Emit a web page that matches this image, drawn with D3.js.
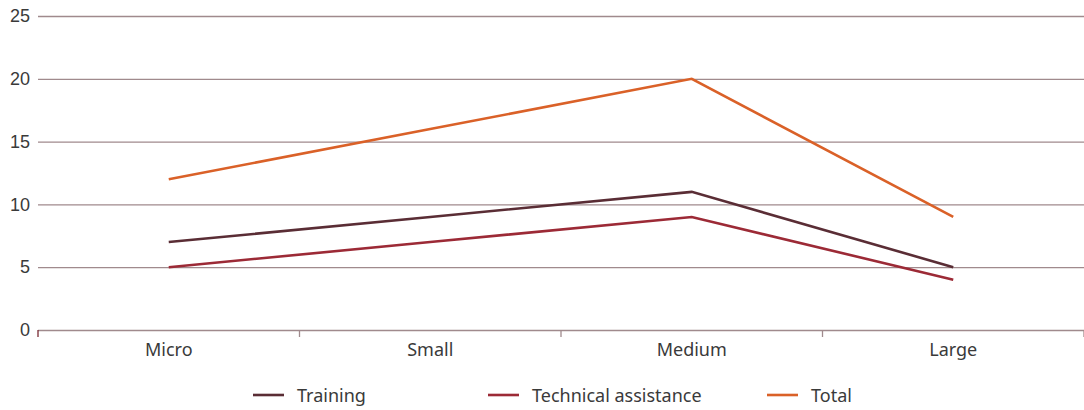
<!DOCTYPE html>
<html>
<head>
<meta charset="utf-8">
<script src="https://cdn.jsdelivr.net/npm/d3@7"></script>
<style>
  html, body { margin: 0; padding: 0; background: #fff; }
  svg { display: block; font-family: "Noto Sans", "Open Sans", sans-serif; }
</style>
</head>
<body>
<svg id="chart" width="1084" height="410"></svg>
<script>
// Firm size categories and series values
const categories = ["Micro", "Small", "Medium", "Large"];
const training = [7, 9, 11, 5];
const technicalAssistance = [5, 7, 9, 4];
const total = [12, 16, 20, 9];
const yTicks = [0, 5, 10, 15, 20, 25];

const series = [
  { name: "Training", values: training, color: "#5a2d35" },
  { name: "Technical assistance", values: technicalAssistance, color: "#9c2a36" },
  { name: "Total", values: total, color: "#da6128" }
];

const svg = d3.select("#chart");
const margin = { left: 38, right: 0, top: 16, bottom: 80 };
const W = 1084, H = 410;

const x = d3.scaleBand().domain(categories).range([margin.left, W - margin.right]);
const y = d3.scaleLinear().domain([0, 25]).range([330, 16]);

const gridColor = "#a08a8d";
const textColor = "#3a3a3a";

// horizontal gridlines with value labels
const yAxis = d3.axisLeft(y).tickValues(yTicks).tickSize(-(W - margin.left - margin.right)).tickPadding(8);
const gy = svg.append("g").attr("transform", `translate(${margin.left},0)`).call(yAxis);
gy.select(".domain").remove();
gy.selectAll(".tick line").attr("stroke", gridColor).attr("stroke-width", 1.3);
gy.selectAll(".tick text").attr("fill", textColor).attr("font-size", 18).attr("x", -8);

// category axis: boundary ticks below the zero line
const boundaries = categories.map(c => x(c)).concat([x.range()[1]]);
svg.append("g").selectAll("line").data(boundaries).join("line")
  .attr("x1", d => d).attr("x2", d => d)
  .attr("y1", y(0)).attr("y2", y(0) + 7)
  .attr("stroke", (d, i) => i === 0 ? "#7a2a33" : gridColor)
  .attr("stroke-width", 1.3);

svg.append("g").selectAll("text").data(categories).join("text")
  .attr("x", d => x(d) + x.bandwidth() / 2)
  .attr("y", 356)
  .attr("text-anchor", "middle")
  .attr("fill", textColor)
  .attr("font-size", 18)
  .text(d => d);

// series lines
const line = d3.line()
  .x((d, i) => x(categories[i]) + x.bandwidth() / 2)
  .y(d => y(d));

svg.append("g").selectAll("path").data(series).join("path")
  .attr("d", d => line(d.values))
  .attr("fill", "none")
  .attr("stroke", d => d.color)
  .attr("stroke-width", 2.6);

// legend
const legendX = [253, 488, 767];
const lg = svg.append("g").selectAll("g").data(series).join("g")
  .attr("transform", (d, i) => `translate(${legendX[i]},395)`);
lg.append("line").attr("x1", 0).attr("x2", 31).attr("y1", 0).attr("y2", 0)
  .attr("stroke", d => d.color).attr("stroke-width", 2.6);
lg.append("text").attr("x", 44).attr("y", 7)
  .attr("fill", textColor).attr("font-size", 18)
  .text(d => d.name);
</script>
</body>
</html>
